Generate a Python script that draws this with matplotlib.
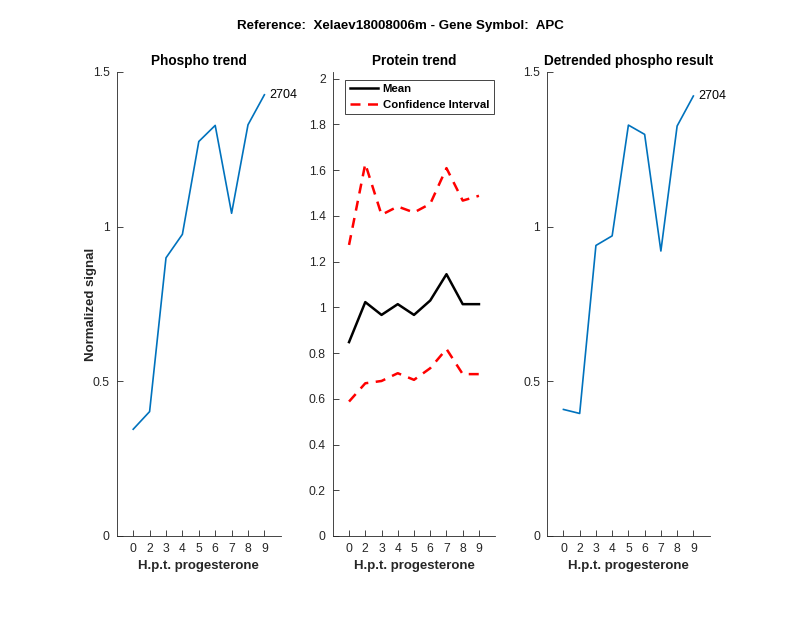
import matplotlib
matplotlib.use("Agg")
import matplotlib.pyplot as plt

plt.rcParams['font.family'] = ['Liberation Sans', 'DejaVu Sans']

# data
x_pos = [1, 2, 3, 4, 5, 6, 7, 8, 9]
x_labels = ["0", "2", "3", "4", "5", "6", "7", "8", "9"]

phospho = [0.345, 0.402, 0.899, 0.975, 1.275, 1.327, 1.043, 1.329, 1.426]
protein_mean = [0.848, 1.023, 0.967, 1.014, 0.967, 1.030, 1.145, 1.014, 1.014]
ci_upper = [1.273, 1.628, 1.405, 1.441, 1.415, 1.453, 1.609, 1.467, 1.488]
ci_lower = [0.588, 0.668, 0.678, 0.712, 0.683, 0.734, 0.818, 0.708, 0.708]
detrended = [0.409, 0.396, 0.939, 0.970, 1.328, 1.298, 0.921, 1.325, 1.422]
site_id = "2704"

blue = "#0072BD"
gray = "#262626"

fig = plt.figure(figsize=(8, 6.18), dpi=100)
ax1 = fig.add_axes([0.146, 0.1327, 0.205, 0.751])
ax2 = fig.add_axes([0.416, 0.1327, 0.203, 0.751])
ax3 = fig.add_axes([0.684, 0.1327, 0.203, 0.751])

def style(ax, title):
    ax.spines['top'].set_visible(False)
    ax.spines['right'].set_visible(False)
    for s in ['left', 'bottom']:
        ax.spines[s].set_color(gray)
        ax.spines[s].set_linewidth(0.6)
    ax.tick_params(direction='in', length=4, width=0.6, colors=gray,
                   labelsize=8.7, pad=5)
    ax.set_xlim(0, 10)
    ax.set_xticks(x_pos)
    ax.set_xticklabels(x_labels)
    ax.set_xlabel("H.p.t. progesterone", fontsize=9.5, fontweight='bold', color=gray)
    ax.set_title(title, fontsize=9.8, fontweight='bold', pad=5)

# Phospho trend
ax1.plot(x_pos, phospho, color=blue, linewidth=1.2)
ax1.text(x_pos[-1] + 0.3, phospho[-1], site_id, fontsize=9, va='center')
ax1.set_ylim(0, 1.5)
ax1.set_yticks([0, 0.5, 1, 1.5])
ax1.set_yticklabels(["0", "0.5", "1", "1.5"])
ax1.set_ylabel("Normalized signal", fontsize=9.5, fontweight='bold', color=gray,
               labelpad=-3)
style(ax1, "Phospho trend")

# Protein trend
ax2.plot(x_pos, protein_mean, color='black', linewidth=1.8, label="Mean")
ax2.plot(x_pos, ci_upper, color='red', linewidth=1.8, linestyle=(0, (4, 3)),
         label="Confidence Interval")
ax2.plot(x_pos, ci_lower, color='red', linewidth=1.8, linestyle=(0, (4, 3)))
ax2.set_ylim(0, 2.03)
ax2.set_yticks([0, 0.2, 0.4, 0.6, 0.8, 1, 1.2, 1.4, 1.6, 1.8, 2])
ax2.set_yticklabels(["0", "0.2", "0.4", "0.6", "0.8", "1", "1.2", "1.4", "1.6", "1.8", "2"])
style(ax2, "Protein trend")
leg = ax2.legend(loc='upper left', bbox_to_anchor=(0.04, 0.995),
                 prop={'weight': 'bold', 'size': 8.2}, fancybox=False,
                 edgecolor=gray, framealpha=1, borderpad=0.4, labelspacing=0.45,
                 handlelength=2.5, handletextpad=0.4)
leg.get_frame().set_linewidth(0.6)

# Detrended phospho
ax3.plot(x_pos, detrended, color=blue, linewidth=1.2)
ax3.text(x_pos[-1] + 0.3, detrended[-1], site_id, fontsize=9, va='center')
ax3.set_ylim(0, 1.5)
ax3.set_yticks([0, 0.5, 1, 1.5])
ax3.set_yticklabels(["0", "0.5", "1", "1.5"])
style(ax3, "Detrended phospho result")

fig.suptitle("Reference:  Xelaev18008006m - Gene Symbol:  APC", fontsize=9.6,
             fontweight='bold', y=0.958, va='center')

fig.savefig("out.png", dpi=100)
